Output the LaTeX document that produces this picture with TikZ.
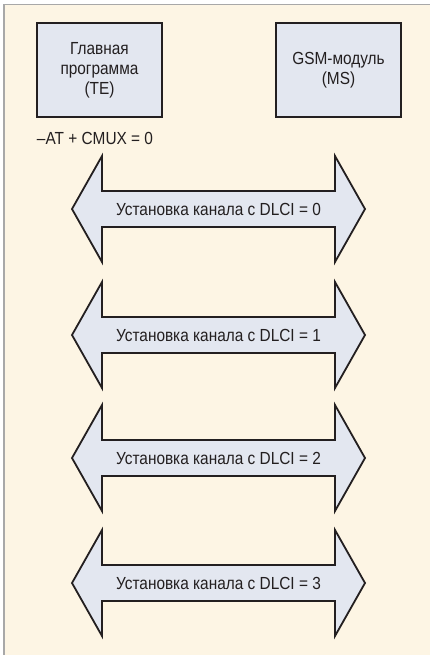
\documentclass[tikz,border=0pt]{standalone}
\usepackage{fontspec}
\setmainfont{Liberation Sans}[FakeStretch=0.88]
\definecolor{paper}{RGB}{253,245,228}
\definecolor{pale}{RGB}{227,231,240}
\definecolor{ink}{RGB}{35,31,32}
\definecolor{rim}{RGB}{168,168,168}
\tikzset{
    every node/.style={font=\fontsize{17.5}{20}\selectfont, text=ink}
}
\tikzset{
    unit/.style={rectangle, draw=ink, fill=pale, line width=2.2pt,
        minimum width=125pt, minimum height=94pt, align=center},
    chan/.style={draw=ink, fill=pale, line width=1.8pt, line join=miter},
    chantext/.style={text height=12pt, text depth=0pt, inner sep=0pt}
}

\begin{document}
\begin{tikzpicture}[x=1pt, y=-1pt]
    \useasboundingbox (0,0) rectangle (430,655);
    \fill[paper] (4,4) rectangle (430,655);
    \draw[rim, line width=1.5pt] (4,655) -- (4,4.5) -- (430,4.5);

    \node (te) at (99.5,70) [unit] {Главная\\программа\\(TE)};
    \node (ms) at (338.5,70) [unit] {GSM-модуль\\(MS)};
    \node (cmux) at (95,138) {--AT + CMUX = 0};

    \foreach \k/\y in {0/209,1/335,2/458,3/583} {
        \begin{scope}[shift={(218.5,\y)}]
            \draw[chan] (-146.5,0) -- (-116.5,-53) -- (-116.5,-18) -- (116.5,-18)
                -- (116.5,-53) -- (146.5,0) -- (116.5,53) -- (116.5,18)
                -- (-116.5,18) -- (-116.5,53) -- cycle;
            \node (ch\k) at (0,0) [chantext] {Установка канала с DLCI = \k};
        \end{scope}
    }
\end{tikzpicture}
\end{document}
